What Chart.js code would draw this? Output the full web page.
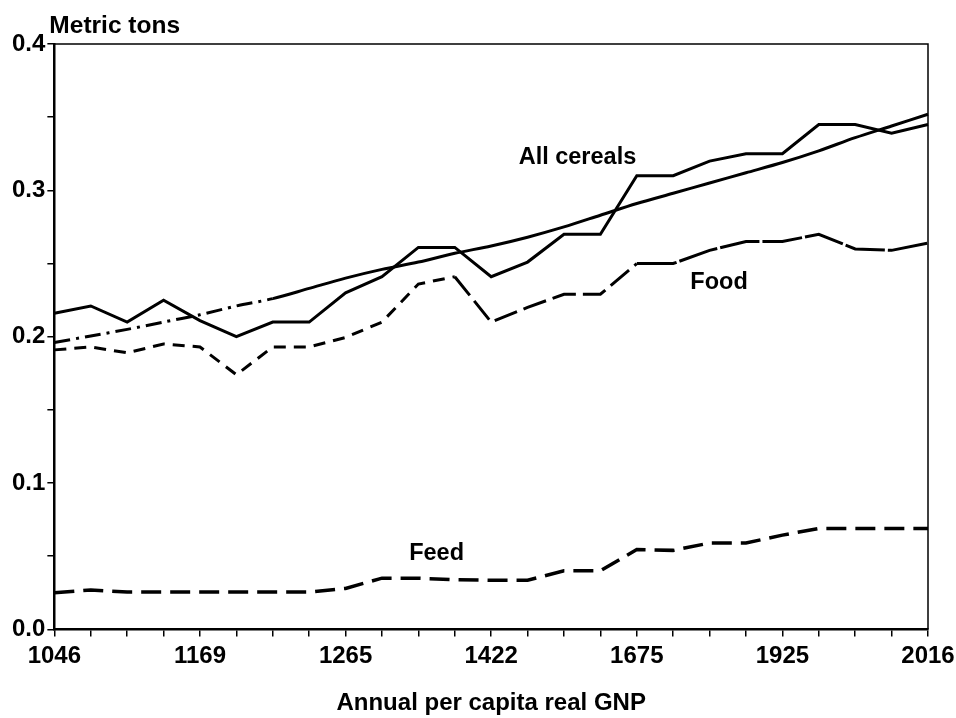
<!DOCTYPE html>
<html>
<head>
<meta charset="utf-8">
<script src="https://cdn.jsdelivr.net/npm/chart.js@4"></script>
<style>
  html, body { margin: 0; padding: 0; background: #fff; }
  #wrap { width: 956px; height: 718px; }
</style>
</head>
<body>
<div id="wrap"><canvas id="chart"></canvas></div>
<script>
// per capita GNP steps, only every 4th one is labelled in the original
const gnpLabels = [
  '1046', '', '', '', '1169', '', '', '', '1265', '', '', '', '1422',
  '', '', '', '1675', '', '', '', '1925', '', '', '', '2016'
];

// metric tons per capita
const allCereals = [
  0.216, 0.221, 0.210, 0.225, 0.211, 0.200, 0.210, 0.210, 0.230, 0.241, 0.261, 0.261, 0.241,
  0.251, 0.270, 0.270, 0.310, 0.310, 0.320, 0.325, 0.325, 0.345, 0.345, 0.339, 0.345
];
const trend = [
  0.196, 0.2005, 0.205, 0.210, 0.215, 0.221, 0.226, 0.233, 0.240, 0.246, 0.251, 0.257, 0.262,
  0.268, 0.275, 0.283, 0.291, 0.298, 0.305, 0.312, 0.319, 0.327, 0.336, 0.344, 0.352
];
const food = [
  0.191, 0.193, 0.189, 0.195, 0.193, 0.174, 0.193, 0.193, 0.1995, 0.210, 0.236, 0.241, 0.210,
  0.220, 0.229, 0.229, 0.250, 0.250, 0.259, 0.265, 0.265, 0.270, 0.260, 0.259, 0.264
];
const feed = [
  0.025, 0.027, 0.0255, 0.0255, 0.0255, 0.0255, 0.0255, 0.0255, 0.028, 0.035, 0.035, 0.034, 0.0336,
  0.0336, 0.040, 0.040, 0.0546, 0.054, 0.059, 0.059, 0.0644, 0.069, 0.069, 0.069, 0.069
];

const FONT = '"Liberation Sans", Arial, sans-serif';

// where the series names sit (x in step index, y in tons)
const seriesNames = [
  { text: 'All cereals', at: 14.37, val: 0.3226 },
  { text: 'Food', at: 18.26, val: 0.237 },
  { text: 'Feed', at: 10.5, val: 0.0517 }
];

const extras = {
  id: 'extras',
  afterDatasetsDraw(chart) {
    const { ctx, chartArea, scales } = chart;
    ctx.save();
    ctx.fillStyle = '#000';
    ctx.font = 'bold 23.5px ' + FONT;
    ctx.textAlign = 'center';
    ctx.textBaseline = 'middle';
    seriesNames.forEach(n => {
      ctx.fillText(n.text, scales.x.getPixelForValue(n.at), scales.y.getPixelForValue(n.val));
    });
    // unit above the y axis
    ctx.font = 'bold 24.5px ' + FONT;
    ctx.textAlign = 'left';
    ctx.textBaseline = 'alphabetic';
    ctx.fillText('Metric tons', chartArea.left - 5, chartArea.top - 11);
    // top and right frame
    ctx.strokeStyle = '#000';
    ctx.lineWidth = 1.5;
    ctx.beginPath();
    ctx.moveTo(chartArea.left, chartArea.top);
    ctx.lineTo(chartArea.right, chartArea.top);
    ctx.lineTo(chartArea.right, chartArea.bottom);
    ctx.stroke();
    ctx.restore();
  }
};

new Chart(document.getElementById('chart'), {
  type: 'line',
  data: {
    labels: gnpLabels,
    datasets: [
      {
        label: 'All cereals',
        data: allCereals,
        borderColor: '#000',
        borderWidth: 3,
        pointRadius: 0,
        tension: 0
      },
      {
        label: 'Trend',
        data: trend,
        borderColor: '#000',
        borderWidth: 3,
        pointRadius: 0,
        tension: 0.3,
        segment: {
          borderDash: ctx => ctx.p0DataIndex < 6 ? [16, 6, 3, 6] : []
        }
      },
      {
        label: 'Food',
        data: food,
        borderColor: '#000',
        borderWidth: 3,
        pointRadius: 0,
        tension: 0,
        segment: {
          borderDash: ctx => ctx.p0DataIndex < 11 ? [12, 8] : (ctx.p0DataIndex < 16 ? [24, 7] : [40, 3])
        }
      },
      {
        label: 'Feed',
        data: feed,
        borderColor: '#000',
        borderWidth: 3.5,
        borderDash: [20, 9],
        pointRadius: 0,
        tension: 0
      }
    ]
  },
  options: {
    responsive: true,
    maintainAspectRatio: false,
    animation: false,
    layout: { padding: { left: 10, right: 28, top: 44, bottom: 0 } },
    plugins: {
      legend: { display: false },
      tooltip: { enabled: false }
    },
    scales: {
      x: {
        offset: false,
        // let the last label hang a bit further past the frame, like the original
        afterFit: s => { s.paddingRight = Math.min(s.paddingRight, 20); },
        border: { color: '#000', width: 2.5 },
        grid: { drawOnChartArea: false, color: '#000', lineWidth: 1.5, tickLength: 7 },
        ticks: {
          autoSkip: false,
          maxRotation: 0,
          color: '#000',
          padding: 6,
          font: { family: FONT, size: 24, weight: 'bold' }
        },
        title: {
          display: true,
          text: 'Annual per capita real GNP',
          color: '#000',
          font: { family: FONT, size: 24, weight: 'bold' },
          padding: { top: 12, bottom: 0 }
        }
      },
      y: {
        min: 0,
        max: 0.4,
        border: { color: '#000', width: 2.5 },
        grid: { drawOnChartArea: false, color: '#000', lineWidth: 1.5, tickLength: 7 },
        ticks: {
          stepSize: 0.05,
          color: '#000',
          padding: 2,
          font: { family: FONT, size: 24, weight: 'bold' },
          callback: v => Math.round(v * 100) % 10 === 0 ? v.toFixed(1) : ''
        }
      }
    }
  },
  plugins: [extras]
});
</script>
</body>
</html>
